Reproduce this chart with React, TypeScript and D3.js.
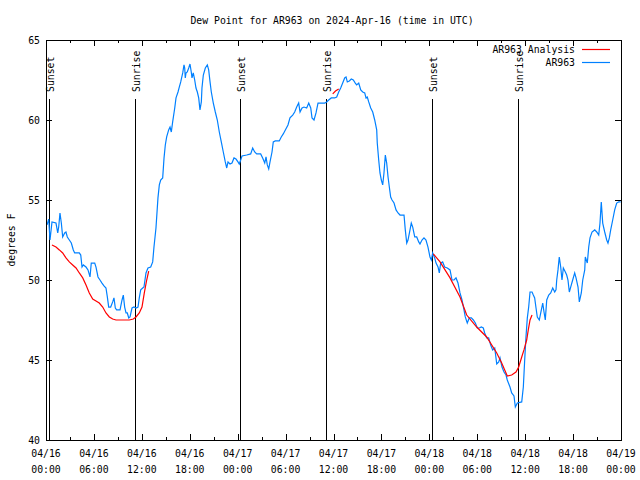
import React from "react";
import * as d3 from "d3";

const title = "Dew Point for AR963 on 2024-Apr-16 (time in UTC)";
const yLabel = "degrees F";
const startTime = Date.UTC(2024, 3, 16, 0, 0);
const endTime = Date.UTC(2024, 3, 19, 0, 0);
const yTicks = [40, 45, 50, 55, 60, 65];

// hours since 2024-04-16 00:00 UTC
const sunsetHours = [0.34, 24.3, 48.37];
const sunriseHours = [11.18, 35.1, 59.14];

const obsHours = [
  0.13, 0.34, 0.5, 0.75, 1.25, 1.47, 1.59, 1.75, 1.92, 2.09, 2.34, 2.5, 2.67, 2.92, 3.17, 3.42, 3.59, 4.01, 4.17, 4.35,
  4.51, 4.67, 5.01, 5.26, 5.51, 5.67, 6.1, 6.26, 6.51, 6.76, 7.01, 7.26, 7.51, 7.68, 7.85, 8.1, 8.35, 8.51, 8.68, 8.85,
  9.27, 9.52, 9.68, 9.85, 10.02, 10.18, 10.36, 10.52, 10.77, 11.02, 11.27, 11.52, 11.68, 11.86, 12.11, 12.27, 12.52, 12.77, 13.11, 13.36,
  13.52, 13.77, 14.02, 14.19, 14.36, 14.61, 14.78, 14.94, 15.11, 15.36, 15.53, 15.69, 15.86, 16.12, 16.28, 16.53, 16.69, 16.87, 17.12, 17.28,
  17.37, 17.44, 17.53, 17.69, 17.87, 18.03, 18.19, 18.28, 18.44, 18.62, 18.78, 18.95, 19.12, 19.28, 19.45, 19.53, 19.7, 19.95, 20.2, 20.37,
  20.54, 20.7, 20.95, 21.2, 21.45, 21.7, 21.95, 22.2, 22.45, 22.63, 22.79, 23.04, 23.29, 23.54, 23.79, 24.04, 24.2, 24.38, 24.54, 25.13,
  25.63, 25.88, 26.13, 26.38, 26.88, 27.13, 27.39, 27.55, 27.71, 27.89, 28.05, 28.3, 28.46, 28.71, 29.21, 29.46, 29.71, 29.97, 30.3, 30.55,
  30.89, 31.14, 31.39, 31.64, 31.81, 32.06, 32.31, 32.64, 32.9, 33.15, 33.31, 33.56, 33.81, 34.06, 34.47, 34.9, 35.15, 35.4, 35.72, 36.15,
  36.4, 36.65, 36.9, 37.15, 37.4, 37.57, 37.73, 37.98, 38.23, 38.48, 38.73, 38.9, 39.16, 39.41, 39.66, 39.91, 40.07, 40.23, 40.41, 40.66,
  40.91, 41.16, 41.41, 41.48, 41.66, 41.82, 41.99, 42.16, 42.32, 42.49, 42.66, 42.83, 42.99, 43.16, 43.33, 43.58, 43.83, 44.08, 44.33, 44.83,
  44.99, 45.17, 45.33, 45.58, 45.74, 45.92, 46.17, 46.42, 46.67, 46.83, 47.08, 47.33, 47.58, 47.83, 48.08, 48.25, 48.42, 48.67, 48.84, 49.09,
  49.25, 49.42, 49.67, 49.92, 50.25, 50.59, 50.84, 51.09, 51.34, 51.59, 51.84, 52.09, 52.34, 52.5, 52.75, 53.0, 53.26, 53.51, 53.76, 54.01,
  54.26, 54.51, 54.76, 54.93, 55.18, 55.43, 55.68, 55.93, 56.19, 56.44, 56.69, 56.85, 57.1, 57.35, 57.6, 57.76, 58.1, 58.31, 58.6, 58.77,
  59.02, 59.57, 59.77, 59.94, 60.1, 60.27, 60.44, 60.61, 60.86, 61.02, 61.19, 61.36, 61.52, 61.77, 61.95, 62.2, 62.36, 62.52, 62.7, 62.95,
  63.2, 63.45, 63.7, 63.86, 63.95, 64.11, 64.27, 64.45, 64.61, 64.78, 65.03, 65.2, 65.36, 65.53, 65.7, 65.95, 66.2, 66.37, 66.62, 66.78,
  67.03, 67.21, 67.46, 67.53, 67.78, 67.96, 68.12, 68.37, 68.71, 68.96, 69.21, 69.37, 69.53, 69.71, 69.96, 70.21, 70.37, 70.54, 70.71, 70.96,
  71.21, 71.46, 71.71, 71.96,
];
const obsValues = [
  53.44, 53.81, 52.5, 53.63, 53.56, 52.94, 53.31, 54.19, 53.56, 52.69, 52.94, 53.0, 52.69, 52.5, 52.31, 51.88, 51.69, 51.69, 51.69, 51.56,
  50.81, 50.94, 50.81, 50.63, 50.19, 51.06, 51.06, 50.81, 50.19, 50.0, 49.81, 49.63, 49.5, 48.94, 48.31, 48.31, 48.63, 48.88, 48.25, 48.13,
  48.13, 48.75, 49.06, 48.31, 47.94, 47.94, 47.63, 47.69, 48.25, 48.31, 48.25, 48.31, 48.88, 49.38, 49.5, 49.56, 50.44, 50.75, 50.81, 51.13,
  52.06, 53.25, 55.13, 55.94, 56.25, 56.38, 57.63, 58.44, 58.94, 59.38, 59.56, 59.25, 59.88, 60.75, 61.38, 61.75, 62.06, 62.38, 62.94, 63.44,
  63.25, 62.63, 62.94, 63.0, 63.25, 63.5, 63.0, 62.63, 62.94, 62.5, 62.0, 61.75, 61.38, 60.63, 61.13, 62.0, 62.81, 63.25, 63.44, 63.13,
  62.38, 61.75, 61.06, 60.5, 60.0, 59.25, 58.63, 58.0, 57.38, 57.0, 57.38, 57.25, 57.31, 57.63, 57.56, 57.38, 57.25, 57.5, 57.75, 57.81,
  57.88, 58.25, 58.0, 57.88, 57.88, 57.63, 57.31, 57.69, 57.19, 56.94, 57.38, 58.0, 58.63, 58.69, 58.69, 58.94, 59.13, 59.38, 59.69, 60.13,
  60.31, 60.5, 60.81, 61.06, 60.5, 60.75, 60.81, 60.75, 61.06, 60.75, 60.13, 60.0, 60.44, 61.06, 61.06, 61.06, 61.13, 61.25, 61.38, 61.38,
  61.44, 61.75, 62.0, 62.31, 62.63, 62.69, 62.38, 62.44, 62.56, 62.5, 62.31, 62.19, 62.31, 61.88, 61.75, 61.69, 61.38, 61.44, 61.13, 60.75,
  60.5, 60.0, 59.38, 58.56, 57.5, 56.69, 56.25, 55.94, 56.69, 57.81, 57.31, 56.44, 55.81, 55.19, 55.0, 54.81, 54.38, 54.19, 54.06, 54.06,
  53.13, 52.31, 52.5, 53.13, 53.56, 53.31, 52.69, 52.69, 52.38, 52.25, 52.5, 52.63, 52.5, 52.06, 51.44, 51.25, 51.69, 51.38, 51.06, 50.81,
  50.44, 51.06, 51.13, 50.81, 50.75, 50.63, 50.0, 50.0, 50.13, 49.81, 49.19, 48.75, 48.13, 47.69, 47.31, 47.63, 47.63, 47.5, 47.31, 47.0,
  47.0, 47.06, 47.0, 46.69, 46.38, 46.38, 45.94, 45.63, 45.75, 44.75, 44.88, 45.13, 44.56, 44.25, 44.06, 43.75, 43.31, 42.94, 42.75, 42.06,
  42.31, 42.38, 43.31, 45.0, 46.44, 47.63, 48.31, 49.25, 49.25, 49.06, 48.88, 48.25, 47.69, 47.5, 47.94, 48.56, 48.0, 47.5, 48.75, 49.06,
  49.19, 49.5, 49.25, 49.38, 50.0, 50.63, 51.44, 50.81, 50.0, 50.75, 50.5, 50.31, 50.0, 49.25, 49.56, 50.0, 50.44, 50.13, 49.56, 48.63,
  49.19, 50.0, 50.63, 51.44, 51.06, 52.06, 52.63, 53.0, 53.13, 53.0, 52.81, 53.56, 54.88, 53.56, 53.0, 52.5, 52.31, 52.63, 53.13, 53.75,
  54.38, 54.81, 54.88, 54.88,
];

const analysis1Hours = [0.75, 1.25, 1.67, 2.09, 2.5, 2.92, 3.34, 3.76, 4.17, 4.6, 5.01, 5.42, 5.85, 6.26, 6.67, 7.1, 7.51, 7.93, 8.35, 8.77, 9.6, 10.43, 10.93, 11.27, 11.68, 12.02, 12.31, 12.61, 12.86];
const analysis1Values = [52.19, 52.06, 51.88, 51.69, 51.38, 51.13, 50.94, 50.75, 50.44, 50.13, 49.69, 49.19, 48.81, 48.69, 48.56, 48.31, 47.94, 47.69, 47.56, 47.5, 47.5, 47.5, 47.56, 47.69, 47.94, 48.31, 49.19, 50.0, 50.56];
const analysis2Hours = [35.9, 36.25, 36.65];
const analysis2Values = [61.63, 61.81, 61.94];
const analysis3Hours = [48.5, 49.34, 50.59, 51.84, 52.68, 53.93, 55.18, 56.44, 57.06, 57.6, 57.76, 58.31, 58.85, 59.19, 59.57, 59.85, 60.19, 60.39, 60.61, 60.86];
const analysis3Values = [51.63, 51.13, 50.13, 48.94, 47.81, 47.06, 46.44, 45.44, 44.81, 44.19, 44.0, 44.06, 44.25, 44.56, 45.19, 45.63, 46.25, 46.88, 47.5, 47.81];

const W = 640;
const H = 480;
const M = { left: 46, right: 621, top: 40, bottom: 440 };
const FONT = "'DejaVu Sans Mono', 'Liberation Mono', monospace";
const BLUE = "#0080ff";
const RED = "#ff0000";

const toDate = (h: number) => new Date(startTime + h * 3600 * 1000);

export default function App() {
  const x = d3.scaleUtc().domain([new Date(startTime), new Date(endTime)]).range([M.left, M.right]);
  const y = d3.scaleLinear().domain([40, 65]).range([M.bottom, M.top]);
  const line = d3
    .line<[number, number]>()
    .x((d) => x(toDate(d[0])))
    .y((d) => y(d[1]));

  const obs = obsHours.map((h, i) => [h, obsValues[i]] as [number, number]);
  const segs = [
    [analysis1Hours, analysis1Values],
    [analysis2Hours, analysis2Values],
    [analysis3Hours, analysis3Values],
  ].map(([hs, vs]) => hs.map((h, i) => [h, vs[i]] as [number, number]));

  const majorTicks = x.ticks(d3.utcHour.every(6)!);
  const minorTicks = x.ticks(d3.utcHour.every(3)!).filter((t) => t.getUTCHours() % 6 !== 0);
  const fmtDate = d3.utcFormat("%m/%d");
  const fmtTime = d3.utcFormat("%H:%M");

  const events = [
    ...sunsetHours.map((h) => ({ h, label: "Sunset" })),
    ...sunriseHours.map((h) => ({ h, label: "Sunrise" })),
  ];

  const px = (v: number) => Math.round(v) + 0.5;

  return (
    <svg width={W} height={H} style={{ position: "absolute", left: 0, top: 0, background: "#fff" }} fontFamily={FONT} fontSize={9.8}>
      <rect x={0} y={0} width={W} height={H} fill="#fff" />
      <text x={332} y={24} textAnchor="middle" fill="#000">{title}</text>
      <text transform={`translate(15,${(M.top + M.bottom) / 2}) rotate(-90)`} textAnchor="middle" fill="#000">{yLabel}</text>

      {/* y ticks */}
      {yTicks.map((t) => (
        <g key={`y${t}`}>
          <line x1={M.left} x2={M.left + 6} y1={px(y(t))} y2={px(y(t))} stroke="#000" shapeRendering="crispEdges" />
          <line x1={M.right - 6} x2={M.right} y1={px(y(t))} y2={px(y(t))} stroke="#000" shapeRendering="crispEdges" />
          <text x={40} y={y(t) + 4} textAnchor="end" fill="#000">{t}</text>
        </g>
      ))}

      {/* x ticks */}
      {majorTicks.map((t) => (
        <g key={`x${+t}`}>
          <line x1={px(x(t))} x2={px(x(t))} y1={M.bottom} y2={M.bottom - 6} stroke="#000" shapeRendering="crispEdges" />
          <line x1={px(x(t))} x2={px(x(t))} y1={M.top} y2={M.top + 6} stroke="#000" shapeRendering="crispEdges" />
          <text x={x(t)} y={457} textAnchor="middle" fill="#000">{fmtDate(t)}</text>
          <text x={x(t)} y={473} textAnchor="middle" fill="#000">{fmtTime(t)}</text>
        </g>
      ))}
      {minorTicks.map((t) => (
        <g key={`m${+t}`}>
          <line x1={px(x(t))} x2={px(x(t))} y1={M.bottom} y2={M.bottom - 3} stroke="#000" shapeRendering="crispEdges" />
          <line x1={px(x(t))} x2={px(x(t))} y1={M.top} y2={M.top + 3} stroke="#000" shapeRendering="crispEdges" />
        </g>
      ))}

      {/* sunrise / sunset markers */}
      {events.map((e) => {
        const ex = px(x(toDate(e.h)));
        return (
          <g key={`${e.label}${e.h}`}>
            <line x1={ex} x2={ex} y1={99} y2={M.bottom} stroke="#000" shapeRendering="crispEdges" />
            <text transform={`translate(${ex + 4},92) rotate(-90)`} textAnchor="start" fill="#000">{e.label}</text>
          </g>
        );
      })}

      {/* series */}
      <path d={line(obs) || ""} fill="none" stroke={BLUE} strokeWidth={1.2} strokeLinejoin="miter" />
      {segs.map((s, i) => (
        <path key={`a${i}`} d={line(s) || ""} fill="none" stroke={RED} strokeWidth={1.2} />
      ))}

      {/* frame */}
      <rect x={M.left + 0.5} y={M.top + 0.5} width={M.right - M.left} height={M.bottom - M.top} fill="none" stroke="#000" shapeRendering="crispEdges" />

      {/* legend */}
      <text x={575} y={53} textAnchor="end" fill="#000">AR963 Analysis</text>
      <line x1={582} x2={610} y1={49.5} y2={49.5} stroke={RED} strokeWidth={1.2} />
      <text x={575} y={66} textAnchor="end" fill="#000">AR963</text>
      <line x1={582} x2={610} y1={62.5} y2={62.5} stroke={BLUE} strokeWidth={1.2} />
    </svg>
  );
}
